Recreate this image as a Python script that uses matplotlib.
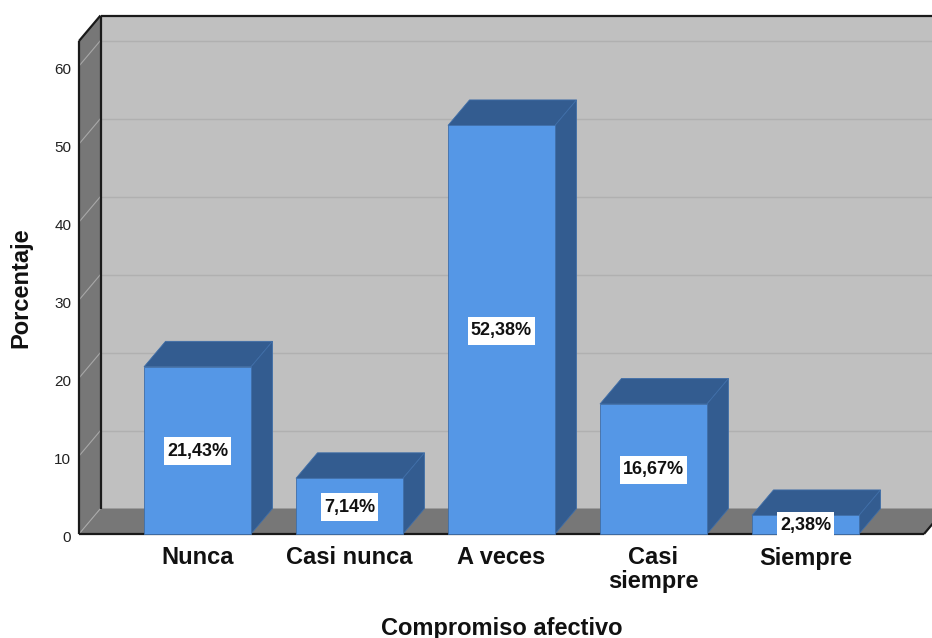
import matplotlib

matplotlib.use("Agg")
import matplotlib.pyplot as plt  # noqa: E402
from matplotlib.patches import Polygon, Rectangle  # noqa: E402
from matplotlib.transforms import ScaledTranslation  # noqa: E402

plt.rcParams["font.family"] = ["Liberation Sans", "DejaVu Sans"]

categories = ["Nunca", "Casi nunca", "A veces", "Casi\nsiempre", "Siempre"]
percentages = [21.43, 7.14, 52.38, 16.67, 2.38]
y_ticks = [0, 10, 20, 30, 40, 50, 60]

WALL = "#c0c0c0"
SIDE = "#777777"
GRID_BACK = "#b0b0b0"
GRID_SIDE = "#a8a8a8"
BAR_FRONT = "#5597e6"
BAR_DARK = "#335c90"
BAR_EDGE = "#3f6ea8"

W, H = 932, 638
# front plane of the box, in pixels
LEFT, RIGHT, BOTTOM, TOP = 79, 924, 534, 41
PX_X = 152.0  # one category step
PX_Y = 7.8  # one percent
BAR_W = 107 / PX_X
# oblique offset of the back plane, in data units
DX = 21.5 / PX_X
DY = 25.5 / PX_Y

fig = plt.figure(figsize=(W / 100, H / 100), dpi=100, facecolor="white")
ax = fig.add_axes([LEFT / W, 1 - BOTTOM / H, (RIGHT - LEFT) / W, (BOTTOM - TOP) / H])
ax.set_xlim((LEFT - 197.5) / PX_X, (RIGHT - 197.5) / PX_X)
ax.set_ylim(0, (BOTTOM - TOP) / PX_Y)
ax.patch.set_visible(False)
for s in ax.spines.values():
    s.set_visible(False)

x0, x1 = ax.get_xlim()
y1 = ax.get_ylim()[1]


def poly(pts, fc, ec="none", lw=0.0, z=1):
    ax.add_patch(Polygon(pts, closed=True, fc=fc, ec=ec, lw=lw, zorder=z, clip_on=False))


# box: back wall, left wall, floor
poly([(x0 + DX, DY), (x1 + DX, DY), (x1 + DX, y1 + DY), (x0 + DX, y1 + DY)], WALL)
poly([(x0, 0), (x0 + DX, DY), (x0 + DX, y1 + DY), (x0, y1)], SIDE)
poly([(x0, 0), (x1, 0), (x1 + DX, DY), (x0 + DX, DY)], SIDE)

for v in y_ticks:
    ax.plot([x0, x0 + DX], [v, v + DY], color=GRID_SIDE, lw=0.8, zorder=2, clip_on=False)
    if v > 0:
        ax.plot([x0 + DX, x1 + DX], [v + DY, v + DY], color=GRID_BACK, lw=1.0, zorder=2, clip_on=False)

# box outline
line = dict(color="#1a1a1a", lw=1.6, zorder=3, clip_on=False, solid_capstyle="butt")
ax.plot([x0, x0], [0, y1], **line)
ax.plot([x0, x0 + DX], [y1, y1 + DY], **line)
ax.plot([x0 + DX, x1 + DX], [y1 + DY, y1 + DY], **line)
ax.plot([x0 + DX, x0 + DX], [DY, y1 + DY], **line)
ax.plot([x0, x1], [0, 0], **line)
ax.plot([x1, x1 + DX], [0, DY], **line)

xs = list(range(len(categories)))
ax.bar(xs, percentages, width=BAR_W, color=BAR_FRONT, edgecolor=BAR_EDGE, lw=0.6, zorder=5, clip_on=False)
value_labels = []
for x, v in zip(xs, percentages):
    l, r = x - BAR_W / 2, x + BAR_W / 2
    poly([(l, v), (r, v), (r + DX, v + DY), (l + DX, v + DY)], BAR_DARK, BAR_EDGE, 0.6, 4)
    poly([(r, 0), (r + DX, DY), (r + DX, v + DY), (r, v)], BAR_DARK, BAR_EDGE, 0.6, 4)
    value_labels.append(ax.text(x, v / 2 - 1 / PX_Y, f"{v:.2f}".replace(".", ",") + "%",
                                ha="center", va="center", fontsize=13, fontweight="bold",
                                color="#111111", zorder=7))

# white plates behind the value labels: tight sideways, taller than the text
renderer = fig.canvas.get_renderer()
for t in value_labels:
    bb = t.get_window_extent(renderer)
    cy = (bb.y0 + bb.y1) / 2
    ax.add_patch(Rectangle((bb.x0 - 3, cy - 14), bb.width + 6, 28, transform=None,
                           fc="white", ec="none", zorder=6, clip_on=False))

ax.set_xticks(xs, categories, fontsize=17, fontweight="bold")
ax.set_yticks(y_ticks)
ax.tick_params(axis="x", length=0, pad=9, colors="#111111")
ax.tick_params(axis="y", length=0, pad=5.5, labelsize=11, colors="#222222")
for lab in ax.get_xticklabels():
    lab.set_linespacing(1.05)
# numbers sit slightly below their gridline ends
shift = ScaledTranslation(0, -1.6 / 72, fig.dpi_scale_trans)
for lab in ax.get_yticklabels():
    lab.set_transform(lab.get_transform() + shift)

ax.set_xlabel("Compromiso afectivo", fontsize=17, fontweight="bold", color="#111111")
ax.set_ylabel("Porcentaje", fontsize=17, fontweight="bold", color="#111111")
ax.xaxis.set_label_coords(0.5, -(628 - BOTTOM) / (BOTTOM - TOP), transform=ax.transAxes)
ax.xaxis.label.set_va("center")
ax.yaxis.set_label_coords((21 - LEFT) / (RIGHT - LEFT), 0.5, transform=ax.transAxes)
ax.yaxis.label.set_va("center")

fig.savefig("out.png", dpi=100)
